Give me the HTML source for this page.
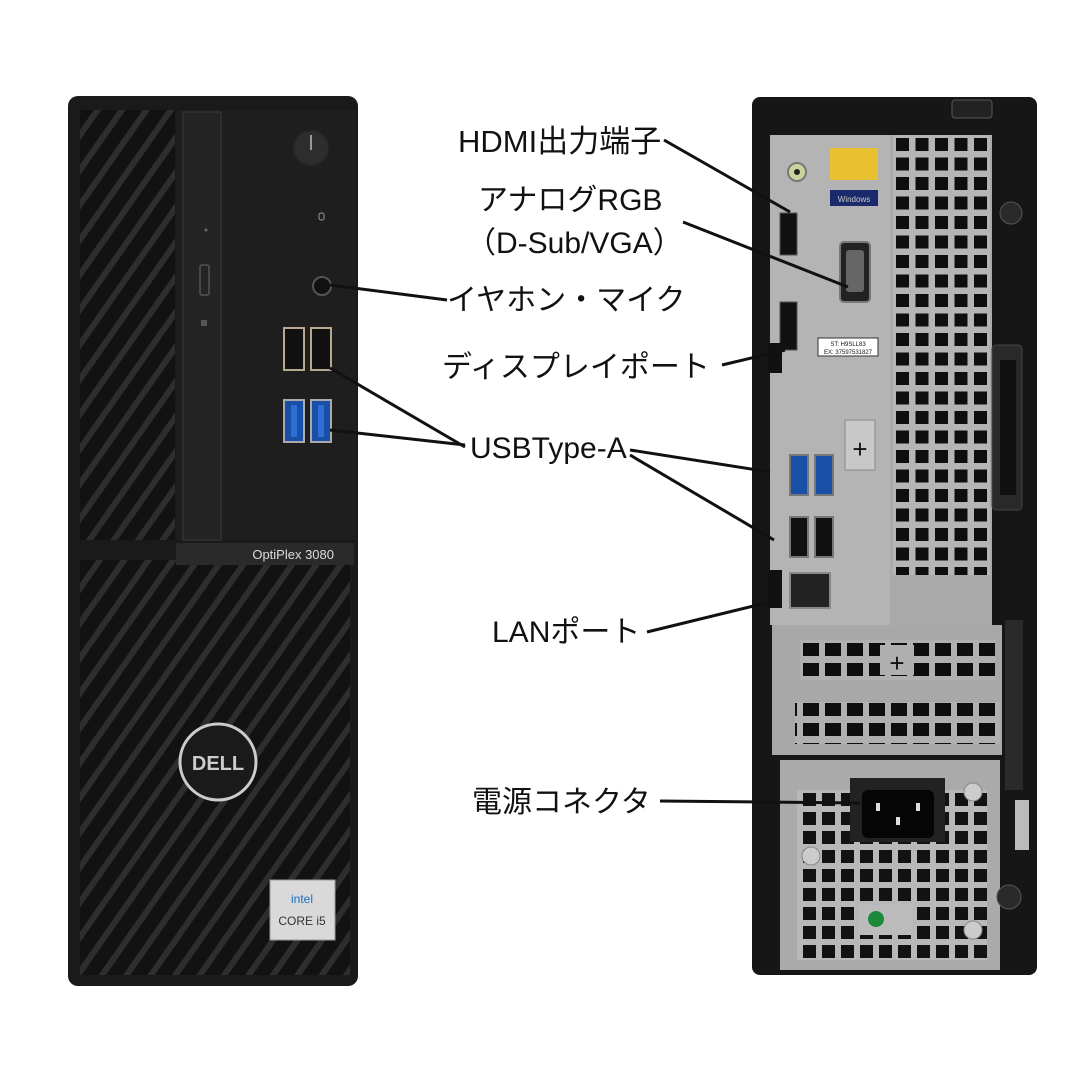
<!DOCTYPE html>
<html><head><meta charset="utf-8"><style>
html,body{margin:0;padding:0;background:#fff;width:1080px;height:1080px;overflow:hidden}
svg{display:block}
text{font-family:"Liberation Sans","Noto Sans CJK JP",sans-serif;fill:#111}
</style></head><body>
<svg width="1080" height="1080" viewBox="0 0 1080 1080">
<defs>
<pattern id="diag" width="20" height="20" patternUnits="userSpaceOnUse" patternTransform="rotate(35)">
<rect width="20" height="20" fill="#121212"/><rect x="0" y="0" width="6" height="20" fill="#2e2e2e"/>
</pattern>
<pattern id="holes" width="19.5" height="19.5" patternUnits="userSpaceOnUse" x="893" y="135">
<rect width="19.5" height="19.5" fill="#b5b5b5"/><rect x="3" y="3" width="13" height="13" fill="#0e0e0e"/>
</pattern>
<pattern id="holes2" width="22" height="20" patternUnits="userSpaceOnUse" x="800" y="640">
<rect width="22" height="20" fill="#b0b0b0"/><rect x="3" y="3" width="16" height="13" fill="#0e0e0e"/>
</pattern>
<pattern id="holes3" width="19" height="19" patternUnits="userSpaceOnUse" x="800" y="790">
<rect width="19" height="19" fill="#b8b8b8"/><rect x="3" y="3" width="13" height="13" fill="#121212"/>
</pattern>
</defs>

<!-- LEFT TOWER -->
<rect x="68" y="96" width="290" height="890" rx="10" fill="#1a1a1a"/>
<rect x="80" y="110" width="95" height="430" fill="url(#diag)"/>
<rect x="80" y="560" width="270" height="415" fill="url(#diag)"/>
<rect x="176" y="110" width="180" height="430" fill="#1e1e1e"/>
<rect x="183" y="112" width="38" height="428" fill="#242424" stroke="#333" stroke-width="1.5"/>
<rect x="200" y="265" width="9" height="30" rx="2" fill="none" stroke="#555" stroke-width="1.5"/>
<rect x="201" y="320" width="6" height="6" fill="#555"/>
<circle cx="206" cy="230" r="1.5" fill="#666"/>
<rect x="176" y="543" width="178" height="22" fill="#2a2a2a"/>
<text x="334" y="559" font-size="13" text-anchor="end" style="fill:#ddd">OptiPlex 3080</text>
<circle cx="311" cy="148" r="18" fill="#2d2d2d" stroke="#222" stroke-width="2"/>
<line x1="311" y1="135" x2="311" y2="150" stroke="#999" stroke-width="2"/>
<rect x="319" y="213" width="5" height="7" rx="2" fill="none" stroke="#999" stroke-width="1"/>
<circle cx="322" cy="286" r="9" fill="#111" stroke="#555" stroke-width="2"/>
<rect x="284" y="328" width="20" height="42" fill="#111" stroke="#b8a890" stroke-width="2"/>
<rect x="311" y="328" width="20" height="42" fill="#111" stroke="#b8a890" stroke-width="2"/>
<rect x="284" y="400" width="20" height="42" fill="#1a4fa8" stroke="#aaa" stroke-width="2"/>
<rect x="311" y="400" width="20" height="42" fill="#1a4fa8" stroke="#aaa" stroke-width="2"/>
<rect x="291" y="405" width="6" height="32" fill="#2e6fd6"/><rect x="318" y="405" width="6" height="32" fill="#2e6fd6"/>
<circle cx="218" cy="762" r="38" fill="#1a1a1a" stroke="#ccc" stroke-width="3"/>
<text x="218" y="770" font-size="20" font-weight="bold" text-anchor="middle" style="fill:#ccc">DELL</text>
<rect x="270" y="880" width="65" height="60" fill="#d9d9d9" stroke="#999"/>
<text x="302" y="903" font-size="12" text-anchor="middle" style="fill:#1a6fc0">intel</text>
<text x="302" y="925" font-size="12" text-anchor="middle" style="fill:#333">CORE i5</text>

<!-- RIGHT TOWER -->
<rect x="752" y="97" width="285" height="878" rx="8" fill="#161616"/>
<rect x="770" y="135" width="222" height="490" fill="#aaa"/>
<rect x="893" y="135" width="97" height="440" fill="url(#holes)"/>
<rect x="770" y="135" width="120" height="490" fill="#b4b4b4"/>
<rect x="772" y="625" width="230" height="130" fill="#a8a8a8"/>
<rect x="800" y="640" width="195" height="40" fill="url(#holes2)"/>
<rect x="880" y="645" width="34" height="30" fill="#b0b0b0"/>
<text x="897" y="672" font-size="26" text-anchor="middle" style="fill:#111">+</text>
<rect x="795" y="702" width="205" height="42" fill="url(#holes2)"/>
<rect x="780" y="760" width="220" height="210" fill="#aaa"/>
<rect x="797" y="790" width="190" height="170" fill="url(#holes3)"/>
<rect x="850" y="778" width="95" height="64" fill="#222"/>
<rect x="862" y="790" width="72" height="48" rx="6" fill="#050505"/>
<rect x="876" y="803" width="4" height="8" fill="#ddd"/><rect x="916" y="803" width="4" height="8" fill="#ddd"/><rect x="896" y="817" width="4" height="8" fill="#ddd"/>
<rect x="858" y="905" width="55" height="30" fill="#bbb"/>
<circle cx="876" cy="919" r="8" fill="#1a8a3a"/>
<circle cx="973" cy="792" r="9" fill="#ccc" stroke="#888"/><circle cx="973" cy="930" r="9" fill="#ccc" stroke="#888"/>
<circle cx="811" cy="856" r="9" fill="#ccc" stroke="#888"/>
<rect x="992" y="345" width="30" height="165" rx="4" fill="#2a2a2a" stroke="#444"/>
<rect x="1000" y="360" width="16" height="135" fill="#111"/>
<rect x="1005" y="620" width="18" height="170" fill="#2a2a2a"/>
<rect x="1015" y="800" width="14" height="50" fill="#bbb"/>
<circle cx="1011" cy="213" r="11" fill="#2a2a2a" stroke="#555"/>
<circle cx="1009" cy="897" r="12" fill="#2a2a2a" stroke="#555"/>
<rect x="952" y="100" width="40" height="18" rx="3" fill="#222" stroke="#555"/>
<circle cx="797" cy="172" r="9" fill="#c8d49a" stroke="#777" stroke-width="2"/><circle cx="797" cy="172" r="3" fill="#222"/>
<rect x="830" y="148" width="48" height="32" fill="#e8c030"/>
<rect x="830" y="190" width="48" height="16" fill="#1a2a6a"/>
<text x="854" y="202" font-size="8" text-anchor="middle" style="fill:#ccc">Windows</text>
<rect x="780" y="213" width="17" height="42" fill="#111" stroke="#555"/>
<rect x="840" y="242" width="30" height="60" rx="4" fill="#222" stroke="#777" stroke-width="2"/>
<rect x="846" y="250" width="18" height="42" rx="3" fill="#666"/>
<rect x="780" y="302" width="17" height="48" fill="#111" stroke="#555"/>
<rect x="818" y="338" width="60" height="18" fill="#fff" stroke="#333"/>
<text x="848" y="346" font-size="6" text-anchor="middle">ST: H9SLL83</text>
<text x="848" y="354" font-size="6" text-anchor="middle">EX: 37597531827</text>
<rect x="845" y="420" width="30" height="50" fill="#c8c8c8" stroke="#888"/>
<text x="860" y="458" font-size="26" text-anchor="middle">+</text>
<rect x="790" y="455" width="18" height="40" fill="#1a4fa8" stroke="#777" stroke-width="2"/>
<rect x="815" y="455" width="18" height="40" fill="#1a4fa8" stroke="#777" stroke-width="2"/>
<rect x="790" y="517" width="18" height="40" fill="#111" stroke="#777" stroke-width="2"/>
<rect x="815" y="517" width="18" height="40" fill="#111" stroke="#777" stroke-width="2"/>
<rect x="790" y="573" width="40" height="35" fill="#222" stroke="#888" stroke-width="2"/>
<rect x="768" y="343" width="14" height="30" fill="#111"/>
<rect x="768" y="570" width="14" height="38" fill="#111"/>

<!-- Labels -->
<g font-size="30">
<text x="458" y="152" font-size="31">HDMI出力端子</text>
<text x="478" y="210">アナログRGB</text>
<text x="466" y="253">（D-Sub/VGA）</text>
<text x="447" y="310">イヤホン・マイク</text>
<text x="442" y="377">ディスプレイポート</text>
<text x="470" y="458">USBType-A</text>
<text x="492" y="642">LANポート</text>
<text x="472" y="812">電源コネクタ</text>
</g>
<g stroke="#111" stroke-width="3" fill="none">
<line x1="664" y1="140" x2="790" y2="212"/>
<line x1="683" y1="222" x2="848" y2="287"/>
<line x1="330" y1="285" x2="447" y2="300"/>
<line x1="722" y1="365" x2="785" y2="350"/>
<line x1="330" y1="368" x2="465" y2="447"/>
<line x1="330" y1="430" x2="465" y2="445"/>
<line x1="630" y1="450" x2="770" y2="472"/>
<line x1="630" y1="455" x2="774" y2="540"/>
<line x1="647" y1="632" x2="770" y2="602"/>
<line x1="660" y1="801" x2="860" y2="803"/>
</g>
</svg>
</body></html>
